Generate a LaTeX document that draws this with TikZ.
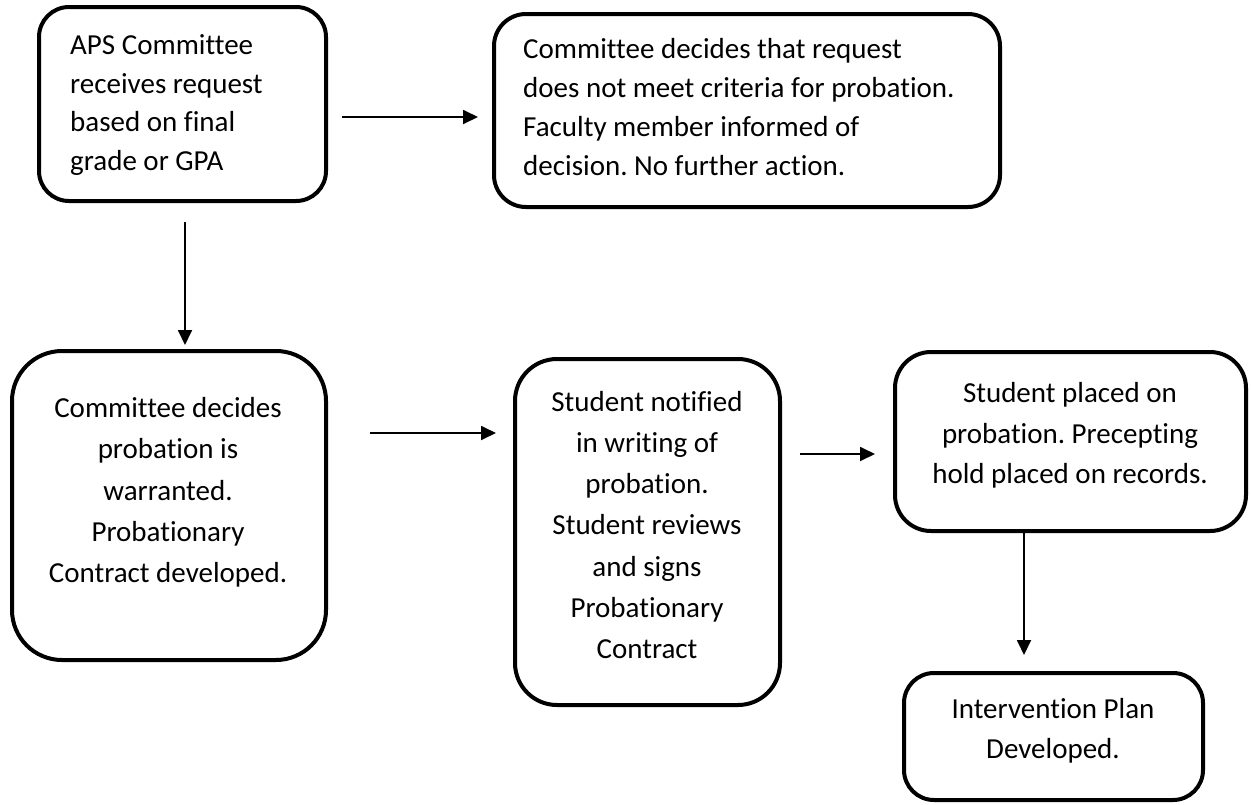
\documentclass[tikz,border=0pt]{standalone}
\usepackage{fontspec}
\setmainfont{Carlito}[Ligatures=NoCommon]
\usetikzlibrary{arrows.meta,calc}
\frenchspacing
\begin{document}
\frenchspacing
\begin{tikzpicture}[x=1pt,y=-1pt,
  box/.style={draw, line width=4pt, rectangle, inner sep=0pt},
  lbl/.style={inner sep=0pt, font=\fontsize{29}{41}\selectfont, align=center},
  lbltight/.style={inner sep=0pt, font=\fontsize{29}{38.7}\selectfont, align=left, anchor=west},
  arr/.style={line width=1.8pt, -{Triangle[length=15pt,width=14pt]}}]
\fill[white] (0,0) rectangle (1251,804);
\useasboundingbox (0,0) rectangle (1251,804);
% boxes
\node[box, rounded corners=30pt, minimum width=287pt, minimum height=194pt] (b1) at (182.5,104) {};
\node[box, rounded corners=32pt, minimum width=506pt, minimum height=193pt] (b2) at (747,110.5) {};
\node[box, rounded corners=50pt, minimum width=314pt, minimum height=309pt] (b3) at (169,505.5) {};
\node[box, rounded corners=42pt, minimum width=265pt, minimum height=346pt] (b4) at (647.5,532) {};
\node[box, rounded corners=36pt, minimum width=351pt, minimum height=179pt] (b5) at (1070.5,441.5) {};
\node[box, rounded corners=30pt, minimum width=299pt, minimum height=127pt] (b6) at (1053.5,736.5) {};
% texts
\node[lbltight] (t1) at (70,105) {APS Committee\\receives request\\based on final\\grade or GPA};
\node[lbltight] (t2) at (523,107) {Committee decides that request\\does not meet criteria for probation.\\Faculty member informed of\\decision. No further action.};
\node[lbl, font=\fontsize{29}{41.3}\selectfont] (t3) at (168,492.5) {Committee decides\\probation is\\warranted.\\Probationary\\Contract developed.};
\node[lbl, font=\fontsize{29}{41.3}\selectfont] (t4) at (647,525) {Student notified\\in writing of\\probation.\\Student reviews\\and signs\\Probationary\\Contract};
\node[lbl, font=\fontsize{29}{40.5}\selectfont] (t5) at (1070,435.5) {Student placed on\\probation. Precepting\\hold placed on records.};
\node[lbl, font=\fontsize{29}{40}\selectfont] (t6) at (1053,730.5) {Intervention Plan\\Developed.};
% arrows
\draw[arr] ($(b1.east)+(14,13)$) -- ($(b2.west)+(-14,6.5)$);
\draw[arr] ($(b1.south)+(2.5,19)$) -- ($(b3.north)+(16,-4)$);
\draw[arr] ($(b3.east)+(42,-72.5)$) -- ($(b4.west)+(-17,-99)$);
\draw[arr] ($(b4.east)+(18,-78)$) -- ($(b5.west)+(-18,12.5)$);
\draw[arr] ($(b5.south)+(-46.5,0)$) -- ($(b6.north)+(-29.5,-16)$);
\end{tikzpicture}
\end{document}
